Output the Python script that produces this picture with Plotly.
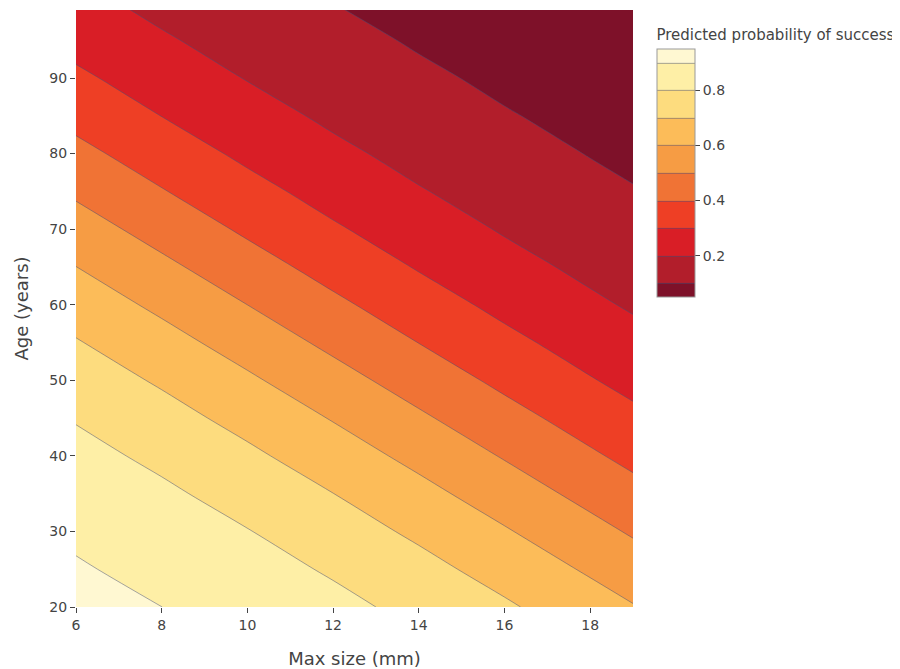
import plotly.graph_objects as go

# Grid of the chart (Max size in mm, Age in years)
max_size_mm = [6, 8, 10, 12, 14, 16, 18, 19]
age_years = [20, 25, 30, 35, 40, 45, 50, 55, 60, 65, 70, 75, 80, 85, 90, 95, 100]

# Predicted probability of success, one row per age
prob_age_20 = [0.9256, 0.9002, 0.8672, 0.8256, 0.7744, 0.7132, 0.6431, 0.6053]
prob_age_25 = [0.9077, 0.8770, 0.8378, 0.7892, 0.7307, 0.6629, 0.5876, 0.5481]
prob_age_30 = [0.8861, 0.8493, 0.8034, 0.7475, 0.6821, 0.6086, 0.5298, 0.4895]
prob_age_35 = [0.8602, 0.8168, 0.7637, 0.7007, 0.6292, 0.5515, 0.4712, 0.4313]
prob_age_40 = [0.8295, 0.7791, 0.7187, 0.6493, 0.5730, 0.4930, 0.4133, 0.3749]
prob_age_45 = [0.7937, 0.7360, 0.6689, 0.5942, 0.5148, 0.4347, 0.3578, 0.3217]
prob_age_50 = [0.7526, 0.6880, 0.6150, 0.5366, 0.4562, 0.3781, 0.3058, 0.2727]
prob_age_55 = [0.7064, 0.6355, 0.5582, 0.4779, 0.3988, 0.3247, 0.2584, 0.2287]
prob_age_60 = [0.6555, 0.5796, 0.4998, 0.4199, 0.3441, 0.2755, 0.2160, 0.1900]
prob_age_65 = [0.6007, 0.5216, 0.4413, 0.3641, 0.2932, 0.2311, 0.1789, 0.1564]
prob_age_70 = [0.5433, 0.4630, 0.3845, 0.3116, 0.2470, 0.1921, 0.1470, 0.1279]
prob_age_75 = [0.4848, 0.4054, 0.3307, 0.2636, 0.2060, 0.1582, 0.1199, 0.1039]
prob_age_80 = [0.4266, 0.3503, 0.2809, 0.2206, 0.1702, 0.1294, 0.0972, 0.0840]
prob_age_85 = [0.3704, 0.2989, 0.2360, 0.1829, 0.1396, 0.1052, 0.0785, 0.0676]
prob_age_90 = [0.3175, 0.2521, 0.1963, 0.1504, 0.1137, 0.0851, 0.0631, 0.0542]
prob_age_95 = [0.2689, 0.2105, 0.1619, 0.1228, 0.0921, 0.0685, 0.0506, 0.0434]
prob_age_100 = [0.2254, 0.1741, 0.1325, 0.0997, 0.0743, 0.0549, 0.0404, 0.0346]

prob_grid = [prob_age_20, prob_age_25, prob_age_30, prob_age_35, prob_age_40,
             prob_age_45, prob_age_50, prob_age_55, prob_age_60, prob_age_65,
             prob_age_70, prob_age_75, prob_age_80, prob_age_85, prob_age_90,
             prob_age_95, prob_age_100]

# Band colours (lowest probability band first)
band_colors = ["#7E1129", "#B21E2B", "#D91E26", "#EE3F25", "#F07335",
               "#F69C44", "#FCBC59", "#FDDC7E", "#FEEFA6", "#FFF8D2"]

x_tick_vals = [6, 8, 10, 12, 14, 16, 18]
y_tick_vals = [20, 30, 40, 50, 60, 70, 80, 90]
cbar_tick_vals = [0.2, 0.4, 0.6, 0.8]

FONT = "DejaVu Sans"

n_bands = len(band_colors)
colorscale = [[i / (n_bands - 1), c] for i, c in enumerate(band_colors)]

fig = go.Figure(
    go.Contour(
        x=max_size_mm,
        y=age_years,
        z=prob_grid,
        colorscale=colorscale,
        contours=dict(start=0.1, end=0.9, size=0.1, coloring="fill"),
        line=dict(width=0.7, color="rgba(70,80,120,0.7)"),
        colorbar=dict(
            title=dict(text="Predicted probability of success", side="top",
                       font=dict(family=FONT, size=15, color="#444")),
            tickvals=cbar_tick_vals,
            ticks="outside",
            ticklen=5,
            tickfont=dict(family=FONT, size=14, color="#444"),
            thickness=38,
            len=0.487,
            lenmode="fraction",
            y=0.99,
            yanchor="top",
            x=1.025,
            xanchor="left",
            outlinewidth=1,
            outlinecolor="#999",
        ),
    )
)

fig.update_layout(
    width=892,
    height=661,
    template="none",
    paper_bgcolor="white",
    plot_bgcolor="white",
    font=dict(family=FONT, color="#444"),
    margin=dict(l=68, r=267, t=2, b=62, autoexpand=False),
    xaxis=dict(
        title=dict(text="Max size (mm)", font=dict(family=FONT, size=18, color="#444"), standoff=20),
        tickvals=x_tick_vals,
        ticks="outside",
        ticklen=5,
        tickcolor="#444",
        tickfont=dict(family=FONT, size=14, color="#444"),
        showgrid=False,
        zeroline=False,
        showline=False,
        range=[6, 19],
    ),
    yaxis=dict(
        title=dict(text="Age (years)", font=dict(family=FONT, size=18, color="#444"), standoff=16),
        tickvals=y_tick_vals,
        ticks="outside",
        ticklen=5,
        tickcolor="#444",
        tickfont=dict(family=FONT, size=14, color="#444"),
        showgrid=False,
        zeroline=False,
        showline=False,
        range=[20, 99],
    ),
)

fig.write_html("out.html")
